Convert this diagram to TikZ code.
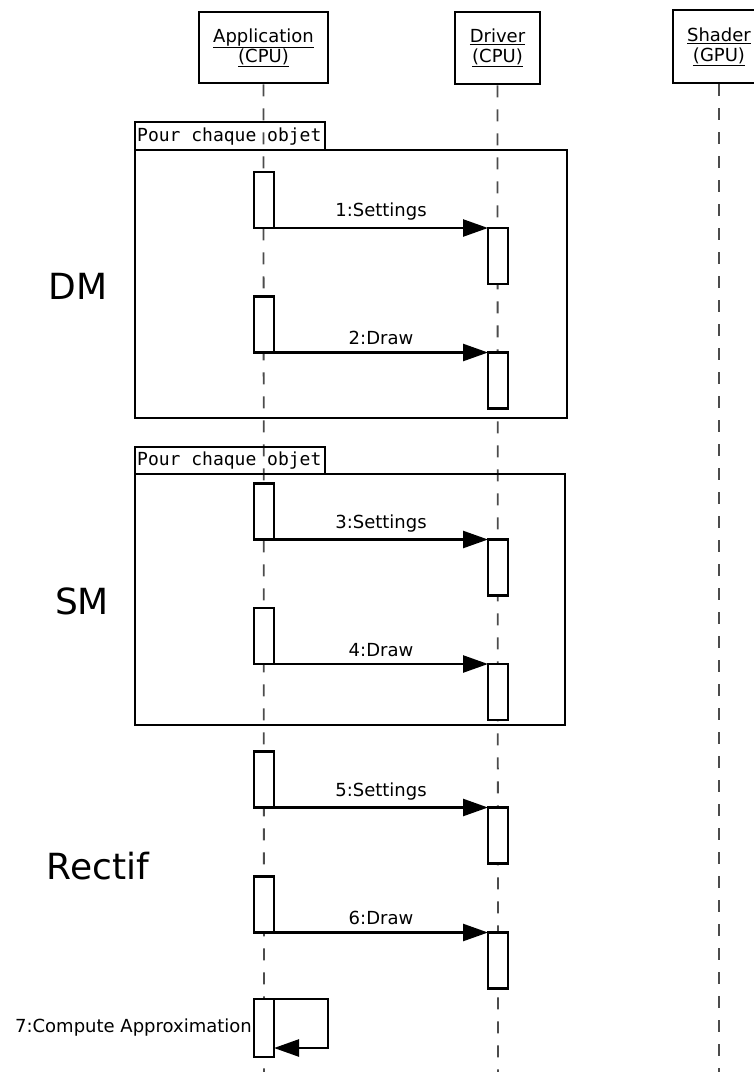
\documentclass[tikz,border=0pt]{standalone}
\usepackage{fontspec}
\setmainfont{DejaVu Sans}
\newfontfamily\monofont{DejaVu Sans Mono}
\usetikzlibrary{positioning,arrows.meta}

\begin{document}
\begin{tikzpicture}[x=1pt, y=-1pt, font=\fontsize{18}{20}\selectfont,
                    c/.style={line width=2.5pt, line join=miter},
                    actor/.style={c, draw, fill=white, align=center, inner sep=0pt},
                    life/.style={line width=1.8pt, black!70, dash pattern=on 12pt off 12pt},
                    bar/.style={c, draw, fill=white, minimum width=20pt, minimum height=56pt, inner sep=0pt, outer sep=0pt},
                    msg/.style={c, -{Triangle[length=25pt, width=17pt]}},
                    frag/.style={c},
                    big/.style={font=\fontsize{36}{40}\selectfont}]
  \useasboundingbox (0,0) rectangle (754,1072);
  \clip (0,0) rectangle (754,1072);
  % lifelines
  \node[actor, minimum width=129pt, minimum height=71pt] (app) at (263.5,47.5) {\underline{Application}\\\underline{(CPU)}};
  \node[actor, minimum width=85pt, minimum height=72pt] (drv) at (497.5,48) {\underline{Driver}\\\underline{(CPU)}};
  \node[actor, minimum width=92pt, minimum height=73pt] (shd) at (719,46.5) {\underline{Shader}\\\underline{(GPU)}};
  \coordinate (append) at (264,1072);
  \coordinate (drvend) at (498,1072);
  \coordinate (shdend) at (719,1072);
  \draw[life] (app.south) -- (append);
  \draw[life] (drv.south) -- (drvend);
  \draw[life] (shd.south) -- (shdend);
  % loops
  \draw[frag] (135,150) rectangle (567,418);
  \draw[frag] (135,122) rectangle (325,150);
  \node[anchor=west, inner sep=1pt, font=\monofont\fontsize{18}{20}\selectfont] (loopa) at (136,137) {Pour chaque objet};
  \draw[frag] (135,474) rectangle (565,725);
  \draw[frag] (135,447) rectangle (325,474);
  \node[anchor=west, inner sep=1pt, font=\monofont\fontsize{18}{20}\selectfont] (loopb) at (136,461) {Pour chaque objet};
  \node[big] (dm) at (78,286) {DM};
  \node[big] (sm) at (82,601) {SM};
  \node[big] (rect) at (98,866) {Rectif};
  % messages
  \foreach \i/\ya/\lab in {1/200/Settings, 2/324.5/Draw, 3/511.5/Settings,
                           4/636/Draw, 5/779.5/Settings, 6/904.5/Draw} {
    \node[bar] (a\i) at (264,\ya) {};
    \node[bar] (d\i) at (498,\ya+56) {};
    \draw[msg] (a\i.south east) -- (a\i.south east -| d\i.west) node[midway, above=3pt] {\i:\lab};
  }
  % self call
  \node[bar, minimum height=58pt] (a7) at (264,1028) {};
  \node[anchor=east, inner sep=2pt] (comp) at (a7.west) {7:Compute Approximation};
  \draw[msg] (a7.north east) -- ++(54,0) |- ([yshift=9pt]a7.south east);
\end{tikzpicture}
\end{document}
